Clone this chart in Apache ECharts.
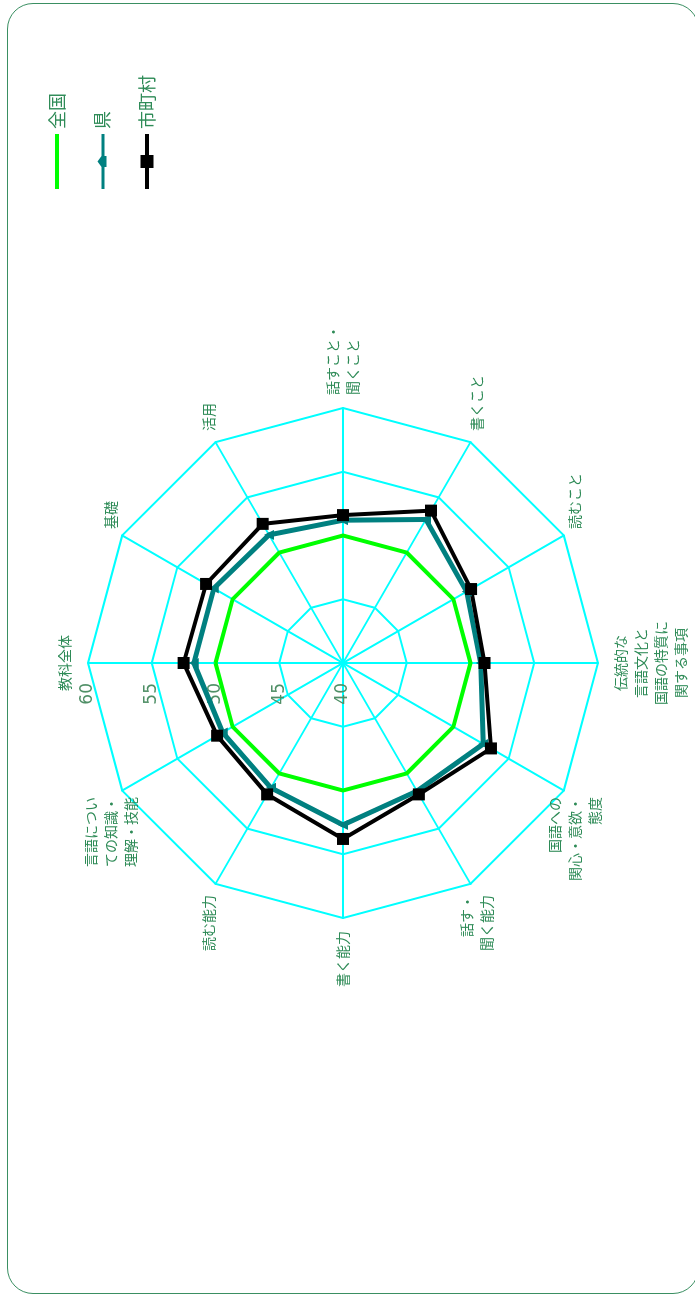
<!DOCTYPE html>
<html>
<head>
<meta charset="utf-8">
<script src="https://cdn.jsdelivr.net/npm/echarts@6/dist/echarts.min.js"></script>
<style>
  html, body { margin: 0; padding: 0; background: #fff; overflow: hidden; width: 695px; height: 1300px; }
  #frame { position: absolute; left: 7px; top: 3px; width: 692px; height: 1291px; border: 1.6px solid #3a8f62; border-radius: 26px; box-sizing: border-box; }
  #chart { position: absolute; left: 0; top: 0; width: 1300px; height: 695px; transform-origin: 0 0; transform: translateY(1300px) rotate(-90deg); }
</style>
</head>
<body>
<div id="frame"></div>
<div id="chart"></div>
<script>
const categories = [
  '教科全体',
  '言語につい\nての知識・\n理解・技能',
  '読む能力',
  '書く能力',
  '話す・\n聞く能力',
  '国語への\n関心・意欲・\n態度',
  '伝統的な\n言語文化と\n国語の特質に\n関する事項',
  '読むこと',
  '書くこと',
  '話すこと・\n聞くこと',
  '活用',
  '基礎'
];
const seriesNames = ['全国', '県', '市町村'];
const zenkoku = [50, 50, 50, 50, 50, 50, 50, 50, 50, 50, 50, 50];
const ken     = [51.7, 50.9, 51.3, 52.7, 51.6, 52.7, 50.8, 51.2, 53.0, 51.2, 51.6, 51.7];
const shichoson = [52.5, 51.4, 51.9, 53.8, 51.9, 53.4, 51.1, 51.6, 53.8, 51.6, 52.6, 52.4];
const axisMin = 40, axisMax = 60;

const textColor = '#2e8b57';
const legendIcons = [
  'path://M0,0 L55,0 L55,4 L0,4 Z',
  'path://M0,4 L22,4 L27.5,0 L33,4 L55,4 L55,7 L33,7 L33,9 L22,9 L22,7 L0,7 Z',
  'path://M0,4.5 L21,4.5 L21,0 L34,0 L34,4.5 L55,4.5 L55,8.5 L34,8.5 L34,13 L21,13 L21,8.5 L0,8.5 Z'
];
const chart = echarts.init(document.getElementById('chart'), null, { renderer: 'canvas', width: 1300, height: 695 });
chart.setOption({
  animation: false,
  backgroundColor: 'transparent',
  legend: {
    orient: 'vertical',
    left: 1106,
    top: 43,
    itemWidth: 55,
    itemHeight: 14,
    itemGap: 27,
    data: seriesNames.map((n, i) => ({ name: n, icon: legendIcons[i] })),
    textStyle: { color: textColor, fontSize: 18, fontFamily: 'Noto Sans CJK JP' }
  },
  radar: {
    center: [637, 343],
    radius: 255,
    startAngle: 90,
    shape: 'polygon',
    splitNumber: 4,
    nameGap: 13,
    indicator: categories.map((n, i) => i === 0
      ? { name: n, min: axisMin, max: axisMax }
      : { name: n, min: axisMin, max: axisMax, axisLabel: { show: false } }),
    axisName: { color: textColor, fontSize: 14, lineHeight: 20, fontFamily: 'Noto Sans CJK JP' },
    axisLine: { lineStyle: { color: '#00ffff', width: 2 } },
    splitLine: { lineStyle: { color: '#00ffff', width: 2 } },
    splitArea: { show: false },
    axisTick: { show: false },
    axisLabel: {
      show: true,
      color: '#4f8f66',
      fontSize: 17,
      fontFamily: 'DejaVu Sans',
      showMinLabel: true,
      showMaxLabel: true,
      margin: 20
    }
  },
  series: [{
    type: 'radar',
    data: [
      { name: seriesNames[0], value: zenkoku, symbol: 'none', lineStyle: { color: '#00ff00', width: 4 }, itemStyle: { color: '#00ff00' } },
      { name: seriesNames[1], value: ken, symbol: 'triangle', symbolSize: 10, lineStyle: { color: '#008080', width: 5 }, itemStyle: { color: '#008080' } },
      { name: seriesNames[2], value: shichoson, symbol: 'rect', symbolSize: 12, lineStyle: { color: '#000000', width: 4 }, itemStyle: { color: '#000000' } }
    ]
  }]
});
</script>
</body>
</html>
